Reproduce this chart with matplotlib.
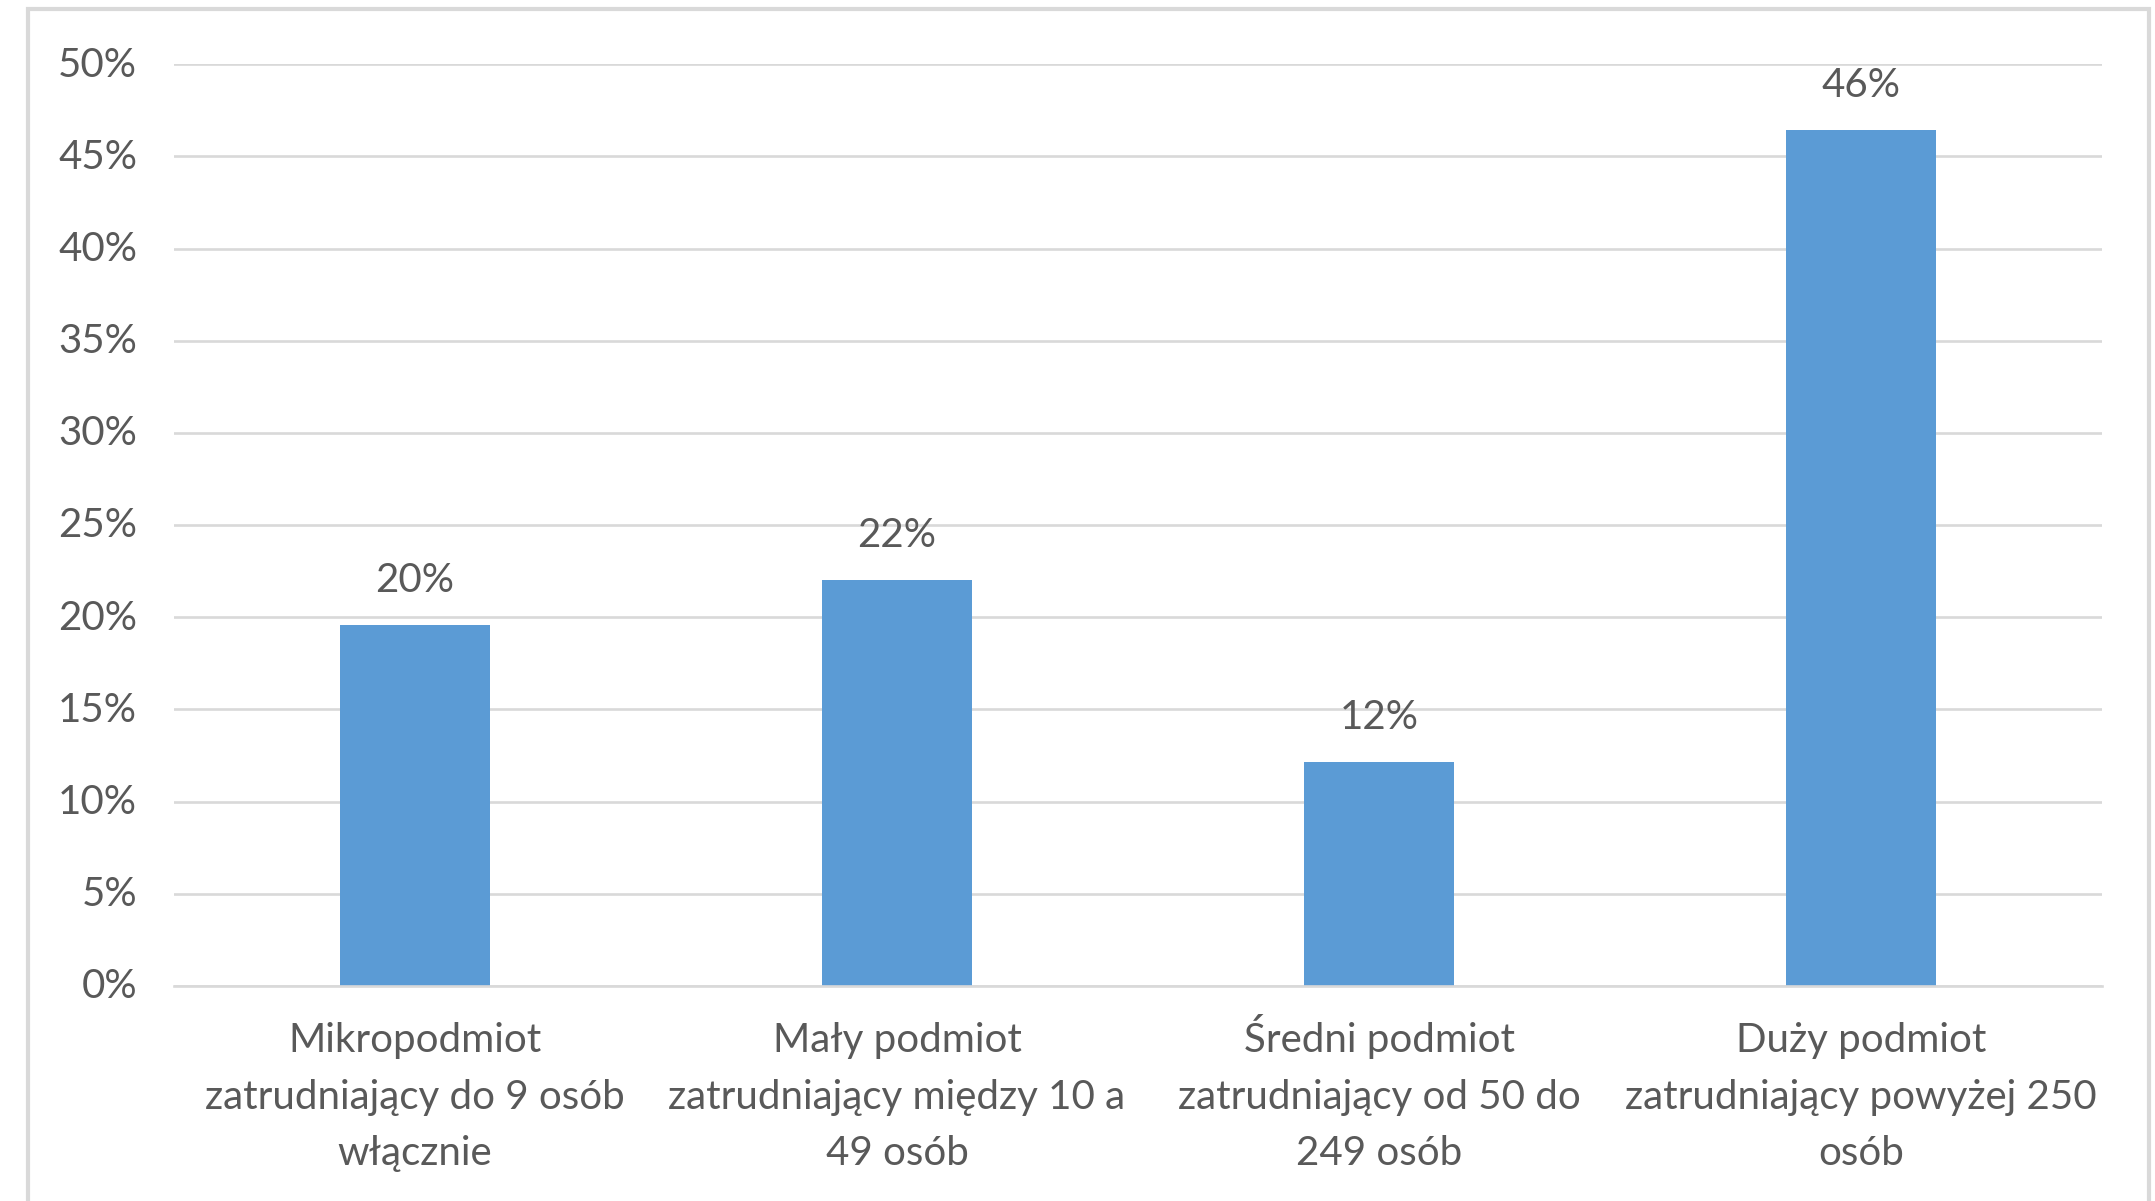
import matplotlib
matplotlib.use("Agg")
import matplotlib.pyplot as plt
from matplotlib.patches import Rectangle
from matplotlib.ticker import PercentFormatter
from matplotlib.transforms import ScaledTranslation

categories = [
    "Mikropodmiot\nzatrudniający do 9 osób\nwłącznie",
    "Mały podmiot\nzatrudniający między 10 a\n49 osób",
    "Średni podmiot\nzatrudniający od 50 do\n249 osób",
    "Duży podmiot\nzatrudniający powyżej 250\nosób",
]
values = [19.6, 22.0, 12.15, 46.45]
value_labels = ["20%", "22%", "12%", "46%"]
yticks = [0, 5, 10, 15, 20, 25, 30, 35, 40, 45, 50]

BAR = "#5B9BD5"
GRID = "#D9D9D9"
TXT = "#595959"
FONT = ["Lato", "DejaVu Sans"]
FS = 29

plt.rcParams["font.family"] = FONT

W, H = 2155, 1201
fig = plt.figure(figsize=(W / 100, H / 100), dpi=100)
fig.patch.set_facecolor("white")

# outer chart frame (left, top, right; bottom runs off the image)
fig.patches.append(Rectangle((28 / W, -0.05), (2149 - 28) / W, (1201 - 9) / H + 0.05,
                             transform=fig.transFigure, fill=False,
                             edgecolor=GRID, linewidth=3.0, zorder=0))

ax = fig.add_axes([174 / W, (H - 986) / H, (2102 - 174) / W, (986 - 64.3) / H])
x = list(range(len(categories)))
ax.bar(x, values, width=0.313, color=BAR, zorder=3)
ax.set_xlim(-0.5, len(categories) - 0.5)
ax.set_ylim(0, 50)
ax.set_yticks(yticks)
ax.yaxis.set_major_formatter(PercentFormatter(decimals=0))
ax.grid(axis="y", color=GRID, linewidth=1.9, zorder=0)
ax.set_axisbelow(True)
for s in ["top", "right", "left"]:
    ax.spines[s].set_visible(False)
ax.spines["bottom"].set_color(GRID)
ax.spines["bottom"].set_linewidth(1.9)
ax.spines["bottom"].set_zorder(4)

ax.set_xticks(x)
ax.set_xticklabels(categories, fontsize=FS, color=TXT, linespacing=1.65)
for lbl in ax.get_xticklabels():
    lbl.set_verticalalignment("baseline")
ax.tick_params(axis="x", length=0, pad=129)
ax.tick_params(axis="y", length=0, pad=26.5, labelsize=FS, labelcolor=TXT)
shift = ScaledTranslation(0, 2.0 / 72, fig.dpi_scale_trans)
for lbl in ax.get_yticklabels():
    lbl.set_transform(lbl.get_transform() + shift)

for xi, v, lab in zip(x, values, value_labels):
    ax.annotate(lab, (xi, v), xytext=(0, 23.8), textcoords="offset points",
                ha="center", va="baseline", fontsize=FS, color=TXT)

fig.savefig("out.png", dpi=100, facecolor="white")
